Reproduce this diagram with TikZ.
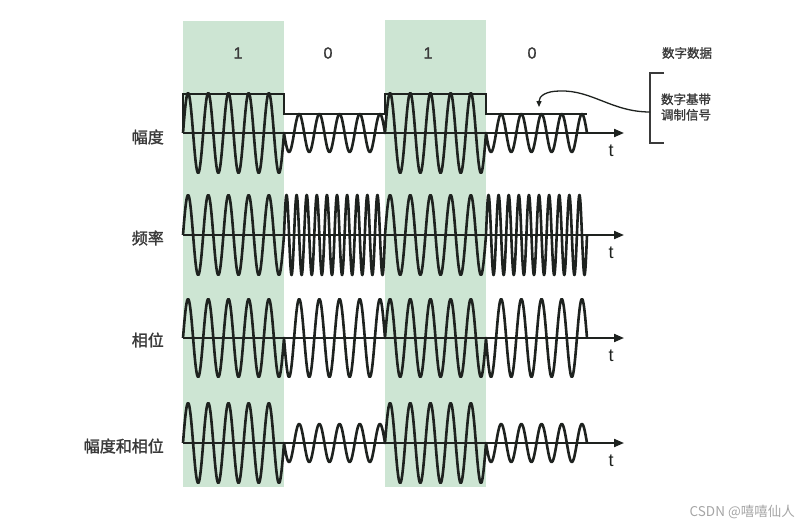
\documentclass[tikz,border=0pt]{standalone}
\usepackage{fontspec}
\setmainfont{Liberation Sans}
\newfontfamily\cjk{Noto Sans CJK SC}[FakeBold=1.6]
\newfontfamily\cjkthin{Noto Sans CJK SC}
\newfontfamily\digitfont{Liberation Sans}[FakeBold=1.2]
\usetikzlibrary{arrows.meta}
\definecolor{band}{RGB}{205,229,211}
\definecolor{ink}{RGB}{30,34,31}
\definecolor{txt}{RGB}{58,58,58}
\definecolor{wm}{RGB}{165,165,165}
\tikzset{
  bandbox/.style={fill=band, draw=none},
  wave/.style={draw=ink, line width=2.6pt, line join=round},
  axisline/.style={draw=ink, line width=2pt, -{Triangle[length=10pt,width=8pt]}},
  baseline/.style={draw=ink, line width=1.9pt, line join=miter},
  rowlabel/.style={anchor=east, font=\cjk\fontsize{16}{16}\selectfont, text=txt, inner sep=0pt},
  bitlabel/.style={font=\digitfont\fontsize{16}{16}\selectfont, text=txt, inner sep=0pt},
  tlabel/.style={font=\fontsize{18}{18}\selectfont, text=ink, inner sep=0pt},
  sidelabel/.style={font=\cjk\fontsize{12.5}{15.5}\selectfont, text=txt, inner sep=0pt, align=center},
  bracketline/.style={draw=txt, line width=1.5pt},
  callout/.style={draw=ink, line width=1.3pt, -{Triangle[length=6pt,width=5pt]}},
}
\begin{document}
\begin{tikzpicture}[x=1pt,y=-1pt]
\useasboundingbox (0,0) rectangle (805,528);
% green bands
\fill[bandbox] (183,21) rectangle (284,487);
\fill[bandbox] (385,20) rectangle (486,487);
% bit labels
\node[bitlabel] (b1) at (238,53) {1};
\node[bitlabel] (b2) at (328,53) {0};
\node[bitlabel] (b3) at (428,53) {1};
\node[bitlabel] (b4) at (532,53) {0};
% row labels
\node[rowlabel] (l1) at (164,137) {幅度};
\node[rowlabel] (l2) at (164,238) {频率};
\node[rowlabel] (l3) at (164,340) {相位};
\node[rowlabel] (l4) at (164,446) {幅度和相位};
% axes
\coordinate (a1s) at (183,133); \coordinate (a1e) at (624,133);
\coordinate (a2s) at (183,235); \coordinate (a2e) at (624,235);
\coordinate (a3s) at (183,338); \coordinate (a3e) at (624,338);
\coordinate (a4s) at (183,443); \coordinate (a4e) at (624,443);
% row 1: amplitude
\draw[wave] plot[domain=0:101,samples=201] ({183+\x},{133-40*sin(\x*17.82178)})
  -- plot[domain=0:101,samples=201] ({284+\x},{133+19*sin(\x*17.82178)})
  -- plot[domain=0:101,samples=201] ({385+\x},{133-40*sin(\x*17.82178)})
  -- plot[domain=0:101,samples=201] ({486+\x},{133+19*sin(\x*17.82178)});
% row 2: frequency
\draw[wave] plot[domain=0:101,samples=201] ({183+\x},{235-40*sin(\x*17.82178)})
  -- plot[domain=0:101,samples=401] ({284+\x},{235-40*sin(\x*35.64356)})
  -- plot[domain=0:101,samples=201] ({385+\x},{235-40*sin(\x*17.82178)})
  -- plot[domain=0:101,samples=401] ({486+\x},{235-40*sin(\x*35.64356)});
% row 3: phase
\draw[wave] plot[domain=0:101,samples=201] ({183+\x},{338-39*sin(\x*17.82178)})
  -- plot[domain=0:101,samples=201] ({284+\x},{338+39*sin(\x*17.82178)})
  -- plot[domain=0:101,samples=201] ({385+\x},{338-39*sin(\x*17.82178)})
  -- plot[domain=0:101,samples=201] ({486+\x},{338+39*sin(\x*17.82178)});
% row 4: amplitude and phase
\draw[wave] plot[domain=0:101,samples=201] ({183+\x},{443-40*sin(\x*17.82178)})
  -- plot[domain=0:101,samples=201] ({284+\x},{443+19*sin(\x*17.82178)})
  -- plot[domain=0:101,samples=201] ({385+\x},{443-40*sin(\x*17.82178)})
  -- plot[domain=0:101,samples=201] ({486+\x},{443+19*sin(\x*17.82178)});
% axes on top
\draw[axisline] (a1s) -- (a1e);
\draw[axisline] (a2s) -- (a2e);
\draw[axisline] (a3s) -- (a3e);
\draw[axisline] (a4s) -- (a4e);
% baseband signal
\draw[baseline] (a1s) -- (183,94) -- (284,94) -- (284,114) -- (385,114) -- (385,94) -- (486,94) -- (486,114) -- (587,114);
% t labels
\node[tlabel] (t1) at (611,151) {t};
\node[tlabel] (t2) at (611,253) {t};
\node[tlabel] (t3) at (611,356) {t};
\node[tlabel] (t4) at (611,461) {t};
% right side
\node[sidelabel] (dd) at (687,53) {数字数据};
\node[sidelabel] (bb) at (686,107) {数字基带\\调制信号};
\coordinate (brt) at (664,73);
\coordinate (brb) at (664,143);
\coordinate (brm) at (650,112);
\coordinate (tip) at (539,107);
\draw[bracketline] (brt) -- (650,73) -- (650,143) -- (brb);
\draw[callout] (brm) .. controls (612,112) and (592,90) .. (560,91)
  .. controls (546,91) and (539,96) .. (tip);
% watermark
\node[font=\cjkthin\fontsize{13.5}{13.5}\selectfont, text=wm, anchor=east, inner sep=0pt] (wmk) at (795,512) {CSDN @嘻嘻仙人};
\end{tikzpicture}
\end{document}
